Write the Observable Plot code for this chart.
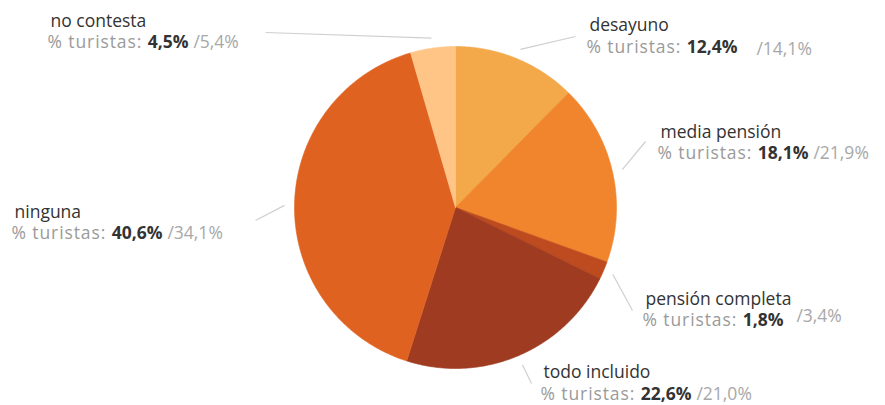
<!DOCTYPE html>
<html>
<head>
<meta charset="utf-8">
<script src="https://cdn.jsdelivr.net/npm/d3@7"></script>
<script src="https://cdn.jsdelivr.net/npm/@observablehq/plot@0.6"></script>
<style>
  html, body { margin: 0; padding: 0; background: #fff; }
  #chart svg { display: block; }
</style>
</head>
<body>
<div id="chart"></div>
<script>
// ---- data ----
const categories = ["desayuno", "media pensión", "pensión completa", "todo incluido", "ninguna", "no contesta"];
const shareTuristas = [12.4, 18.1, 1.8, 22.6, 40.6, 4.5];
const shareCompare = [14.1, 21.9, 3.4, 21.0, 34.1, 5.4];
const sliceColors = ["#F3A84A", "#F0852D", "#BE4B1F", "#9E3B20", "#E06221", "#FFC586"];

// ---- layout (pixels) ----
const W = 885, H = 405;
const center = {x: 455, y: 207}, R = 161;
const labelLayout = [
  {x: 589, y1: 30, y2: 52, lx: 575, ly: 36, gap: 14, dy: 2},
  {x: 660, y1: 137, y2: 158, lx: 645, ly: 141, gap: 0, dy: 0},
  {x: 645, y1: 304, y2: 325, lx: 632, ly: 310, gap: 8, dy: -4},
  {x: 543, y1: 377, y2: 399, lx: 531, ly: 383, gap: 0, dy: 0},
  {x: 14, y1: 217, y2: 238, lx: 255, ly: 220, gap: 0, dy: 0},
  {x: 50, y1: 26, y2: 47, lx: 265, ly: 32, gap: 0, dy: 0}
];
const FONT = "Open Sans";
const FS = 17.5;
const PREFIX_SPACING = 0.9;

const fmt = v => v.toFixed(1).replace(".", ",") + "%";

// pie geometry from the data
const arcs = d3.pie().sort(null).value(d => d)(shareTuristas);
const pt = (a, r) => ({x: center.x + r * Math.sin(a), y: center.y - r * Math.cos(a)});

const slicePts = [];
arcs.forEach((a, i) => {
  const n = Math.max(2, Math.ceil((a.endAngle - a.startAngle) / (Math.PI / 360)));
  slicePts.push({cat: categories[i], color: sliceColors[i], ...center});
  for (let k = 0; k <= n; k++) {
    const t = a.startAngle + (a.endAngle - a.startAngle) * k / n;
    slicePts.push({cat: categories[i], color: sliceColors[i], ...pt(t, R)});
  }
  slicePts.push({cat: categories[i], color: sliceColors[i], ...center});
});

// leaders
const leaders = arcs.map((a, i) => {
  const s = pt((a.startAngle + a.endAngle) / 2, R + 10);
  return {x1: s.x, y1: s.y, x2: labelLayout[i].lx, y2: labelLayout[i].ly};
});

// text measurement
const ctx = document.createElement("canvas").getContext("2d");
const measure = (txt, weight) => { ctx.font = `${weight} ${FS}px "${FONT}"`; return ctx.measureText(txt).width; };

const prefix = "% turistas: ";
const labels = categories.map((c, i) => {
  const L = labelLayout[i];
  const x2 = L.x - 3;
  const wPre = measure(prefix, "normal") + prefix.length * PREFIX_SPACING;
  const val = fmt(shareTuristas[i]);
  const wVal = measure(val, "bold");
  return {
    name: c, x: L.x, y1: L.y1, y2: L.y2,
    xPre: x2, pre: prefix,
    xVal: x2 + wPre, val,
    xSuf: x2 + wPre + wVal + 5 + L.gap, suf: "/" + fmt(shareCompare[i]), ySuf: L.y2 + L.dy
  };
});

const chart = Plot.plot({
  width: W, height: H, margin: 0,
  x: {domain: [0, W], range: [0, W], axis: null},
  y: {domain: [0, H], range: [0, H], axis: null},
  marks: [
    Plot.link(leaders, {x1: "x1", y1: "y1", x2: "x2", y2: "y2", stroke: "#cfcfcf", strokeWidth: 1.2}),
    Plot.line(slicePts, {x: "x", y: "y", z: "cat", fill: "color", stroke: "color", strokeWidth: 0.6, curve: "linear"}),
    Plot.text(labels, {x: "x", y: "y1", text: "name", textAnchor: "start", lineAnchor: "bottom", fontSize: FS, fontFamily: FONT, fill: "#333333"}),
    Plot.text(labels, {x: "xPre", y: "y2", text: "pre", textAnchor: "start", lineAnchor: "bottom", fontSize: FS, fontFamily: FONT, fill: "#9a9a9a"}),
    Plot.text(labels, {x: "xVal", y: "y2", text: "val", textAnchor: "start", lineAnchor: "bottom", fontSize: FS, fontFamily: FONT, fontWeight: "bold", fill: "#333333"}),
    Plot.text(labels, {x: "xSuf", y: "ySuf", text: "suf", textAnchor: "start", lineAnchor: "bottom", fontSize: FS, fontFamily: FONT, fill: "#a8a8a8"})
  ]
});
d3.select(chart).selectAll("text")
  .filter(function() { return this.textContent.startsWith("% turistas"); })
  .attr("letter-spacing", PREFIX_SPACING + "px");
document.getElementById("chart").appendChild(chart);
</script>
</body>
</html>
